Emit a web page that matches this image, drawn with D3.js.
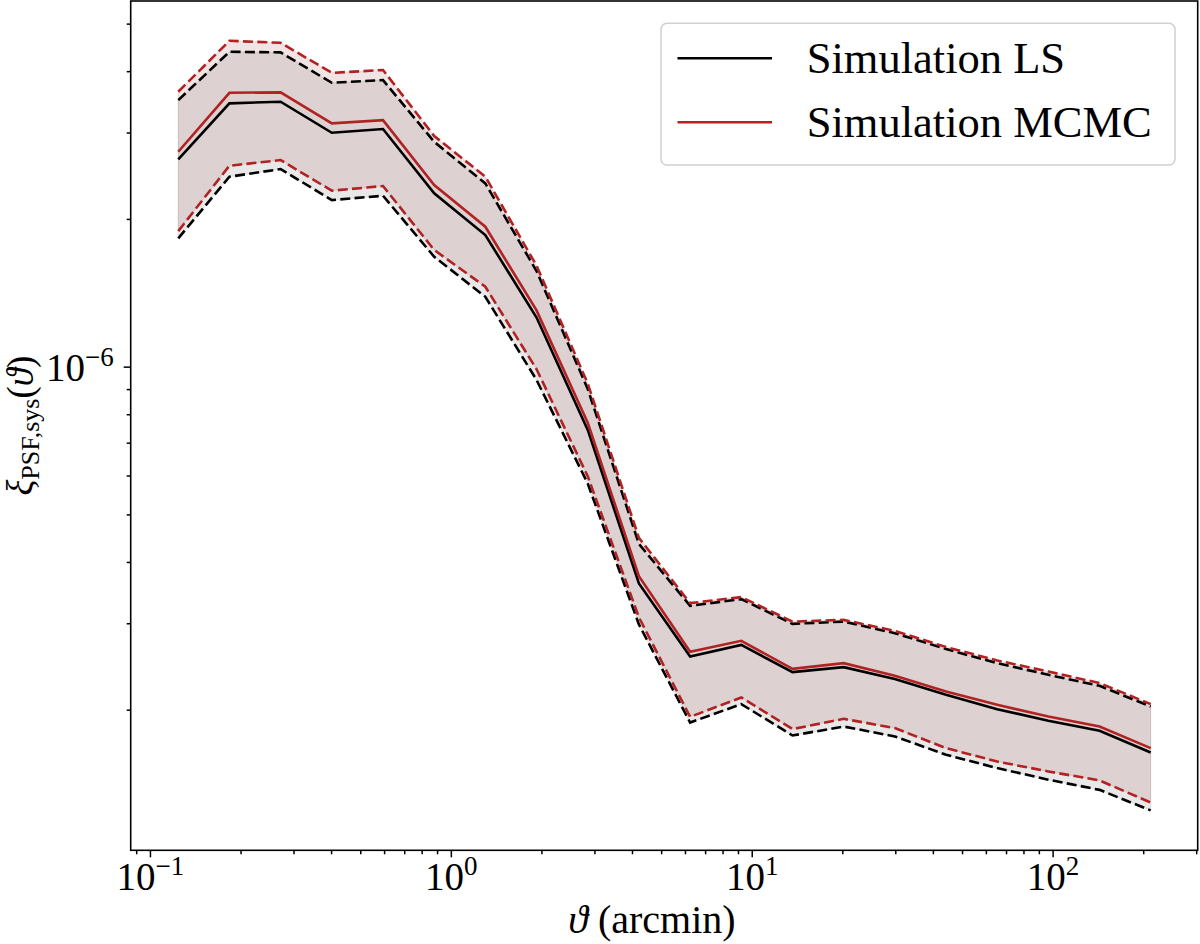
<!DOCTYPE html>
<html>
<head>
<meta charset="utf-8">
<title>PSF systematics</title>
<script src="https://d3js.org/d3.v7.min.js"></script>
<style>
  body { margin: 0; background: #fff; }
  svg { display: block; }
  text { font-family: "Liberation Serif", "DejaVu Serif", serif; fill: #000; }
  .frame { fill: none; stroke: #000; stroke-width: 1.6; }
  .tick line { stroke: #000; stroke-width: 1.5; }
</style>
</head>
<body>
<svg width="1200" height="944"></svg>
<script>
// angular bins (arcmin)
var theta = [0.1242, 0.1837, 0.2718, 0.4022, 0.5950, 0.8804, 1.302, 1.927, 2.851, 4.217,
             6.240, 9.232, 13.66, 20.21, 29.89, 44.23, 65.43, 96.78, 143.2, 211.8];

// Simulation LS
var lsMean = [2.645e-6, 3.440e-6, 3.466e-6, 2.996e-6, 3.049e-6, 2.255e-6, 1.854e-6, 1.259e-6, 7.431e-7, 3.616e-7,
              2.566e-7, 2.711e-7, 2.385e-7, 2.442e-7, 2.309e-7, 2.145e-7, 2.005e-7, 1.898e-7, 1.811e-7, 1.636e-7];
var lsHigh = [3.493e-6, 4.381e-6, 4.369e-6, 3.788e-6, 3.836e-6, 2.872e-6, 2.363e-6, 1.566e-6, 9.006e-7, 4.355e-7,
              3.256e-7, 3.360e-7, 2.992e-7, 3.024e-7, 2.864e-7, 2.658e-7, 2.488e-7, 2.356e-7, 2.237e-7, 2.030e-7];
var lsLow  = [1.826e-6, 2.438e-6, 2.527e-6, 2.185e-6, 2.230e-6, 1.675e-6, 1.388e-6, 9.395e-7, 5.779e-7, 2.984e-7,
              1.883e-7, 2.053e-7, 1.772e-7, 1.848e-7, 1.764e-7, 1.619e-7, 1.521e-7, 1.440e-7, 1.373e-7, 1.247e-7];

// Simulation MCMC
var mcMean = [2.741e-6, 3.614e-6, 3.622e-6, 3.131e-6, 3.180e-6, 2.345e-6, 1.928e-6, 1.302e-6, 7.684e-7, 3.741e-7,
              2.624e-7, 2.763e-7, 2.423e-7, 2.488e-7, 2.345e-7, 2.178e-7, 2.046e-7, 1.937e-7, 1.848e-7, 1.670e-7];
var mcHigh = [3.632e-6, 4.613e-6, 4.570e-6, 3.969e-6, 4.022e-6, 2.951e-6, 2.438e-6, 1.606e-6, 9.238e-7, 4.479e-7,
              3.297e-7, 3.392e-7, 3.024e-7, 3.048e-7, 2.895e-7, 2.683e-7, 2.520e-7, 2.392e-7, 2.266e-7, 2.053e-7];
var mcLow  = [1.889e-6, 2.567e-6, 2.636e-6, 2.283e-6, 2.334e-6, 1.729e-6, 1.455e-6, 9.879e-7, 5.977e-7, 3.085e-7,
              1.934e-7, 2.118e-7, 1.826e-7, 1.916e-7, 1.835e-7, 1.670e-7, 1.568e-7, 1.497e-7, 1.435e-7, 1.294e-7];

var xMajor = [0.1, 1, 10, 100];
var xMajorExp = ["\u22121", "0", "1", "2"];
var xMinor = [0.09, 0.2, 0.3, 0.4, 0.5, 0.6, 0.7, 0.8, 0.9, 2, 3, 4, 5, 6, 7, 8, 9,
              20, 30, 40, 50, 60, 70, 80, 90, 200, 300];
var yMajor = [1e-6];
var yMajorExp = ["\u22126"];
var yMinor = [2e-7, 3e-7, 4e-7, 5e-7, 6e-7, 7e-7, 8e-7, 9e-7, 2e-6, 3e-6, 4e-6, 5e-6];

var legendLabels = ["Simulation LS", "Simulation MCMC"];

var svg = d3.select("svg"),
    margin = {top: 1, right: 2.3, bottom: 93.7, left: 130.7},
    width = +svg.attr("width") - margin.left - margin.right,
    height = +svg.attr("height") - margin.top - margin.bottom,
    g = svg.append("g").attr("transform", "translate(" + margin.left + "," + margin.top + ")");

var x = d3.scaleLog().domain([0.0863, 303.5]).range([0, width]);
var y = d3.scaleLog().domain([1.034e-7, 5.56e-6]).range([height, 0]);

var red = "#b22222";

function band(lo, hi) {
  return d3.area()
    .x(function(d, i) { return x(theta[i]); })
    .y0(function(d, i) { return y(lo[i]); })
    .y1(function(d, i) { return y(hi[i]); })(theta);
}
function line(vals) {
  return d3.line()
    .x(function(d, i) { return x(theta[i]); })
    .y(function(d) { return y(d); })(vals);
}

// bands
g.append("path").attr("d", band(lsLow, lsHigh))
  .attr("fill", "rgba(128,128,128,0.18)").attr("stroke", "rgba(128,128,128,0.18)").attr("stroke-width", 1);
g.append("path").attr("d", band(mcLow, mcHigh))
  .attr("fill", "rgba(180,120,120,0.2)").attr("stroke", "rgba(180,120,120,0.2)").attr("stroke-width", 1);

// dashed bounds
[[lsHigh, "#000"], [lsLow, "#000"], [mcHigh, red], [mcLow, red]].forEach(function(s) {
  g.append("path").attr("d", line(s[0]))
    .attr("fill", "none").attr("stroke", s[1]).attr("stroke-width", 2.6)
    .attr("stroke-dasharray", "10,4.3");
});

// means
g.append("path").attr("d", line(lsMean))
  .attr("fill", "none").attr("stroke", "#000").attr("stroke-width", 2.6);
g.append("path").attr("d", line(mcMean))
  .attr("fill", "none").attr("stroke", red).attr("stroke-width", 2.6);

// axes
function supLabel(sel, exps) {
  sel.selectAll("text").each(function(d, i) {
    var t = d3.select(this).text("");
    t.append("tspan").text("10");
    t.append("tspan").attr("dy", -15).attr("font-size", 27).text(exps[i]);
  });
}

var xAxis = g.append("g").attr("transform", "translate(0," + height + ")")
  .call(d3.axisBottom(x).tickValues(xMajor).tickSize(7).tickSizeOuter(0).tickPadding(6));
xAxis.select(".domain").remove();
xAxis.selectAll("text").attr("font-size", 39).attr("dy", 0).attr("y", 40);
supLabel(xAxis, xMajorExp);

var xMin = g.append("g").attr("transform", "translate(0," + height + ")")
  .call(d3.axisBottom(x).tickValues(xMinor).tickSize(4).tickSizeOuter(0).tickFormat(""));
xMin.select(".domain").remove();

var yAxis = g.append("g")
  .call(d3.axisLeft(y).tickValues(yMajor).tickSize(7).tickSizeOuter(0).tickPadding(10));
yAxis.select(".domain").remove();
yAxis.selectAll("text").attr("font-size", 39).attr("dy", 14);
supLabel(yAxis, yMajorExp);

var yMin = g.append("g")
  .call(d3.axisLeft(y).tickValues(yMinor).tickSize(4).tickSizeOuter(0).tickFormat(""));
yMin.select(".domain").remove();

g.append("rect").attr("class", "frame").attr("width", width).attr("height", height);

// axis labels
var xl = svg.append("text").attr("x", 652).attr("y", 933)
  .attr("text-anchor", "middle").attr("font-size", 40);
xl.append("tspan").attr("font-style", "italic").text("\u03d1");
xl.append("tspan").text(" (arcmin)");

var yl = svg.append("text")
  .attr("transform", "translate(33," + (margin.top + height / 2) + ") rotate(-90)")
  .attr("text-anchor", "middle").attr("font-size", 37);
yl.append("tspan").attr("font-style", "italic").text("\u03be");
yl.append("tspan").attr("font-size", 26).attr("dy", 6).text("PSF,sys");
yl.append("tspan").attr("dy", -6).text("(");
yl.append("tspan").attr("font-style", "italic").text("\u03d1");
yl.append("tspan").text(")");

// legend
var leg = svg.append("g");
leg.append("rect").attr("x", 661).attr("y", 23.3).attr("width", 514).attr("height", 141.7)
  .attr("rx", 6).attr("fill", "rgba(255,255,255,0.8)").attr("stroke", "#d0d0d0").attr("stroke-width", 1.5);
[["#000", 58.3, 73.3], [red, 122.3, 136.7]].forEach(function(r, i) {
  leg.append("line").attr("x1", 677.5).attr("x2", 772).attr("y1", r[1]).attr("y2", r[1])
    .attr("stroke", r[0]).attr("stroke-width", 2.6);
  leg.append("text").attr("x", 806.7).attr("y", r[2]).attr("font-size", 44.5).text(legendLabels[i]);
});
</script>
</body>
</html>
